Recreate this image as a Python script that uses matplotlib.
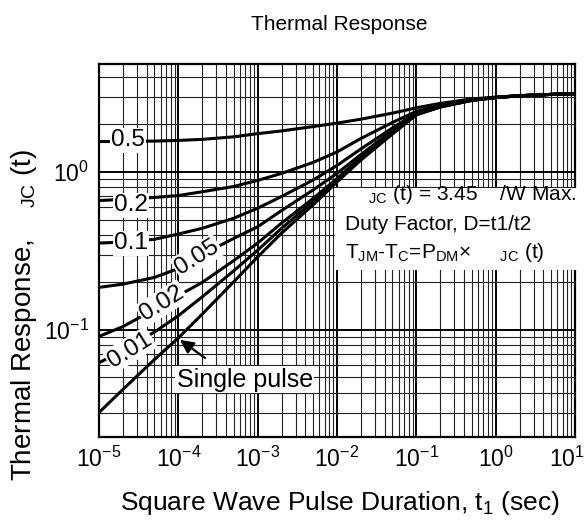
import matplotlib
matplotlib.use('Agg')
import matplotlib.pyplot as plt
from matplotlib.ticker import LogLocator, NullFormatter
from matplotlib.patches import Rectangle
from matplotlib.transforms import ScaledTranslation

plt.rcParams['font.family'] = ['Liberation Sans', 'DejaVu Sans']
plt.rcParams['mathtext.fontset'] = 'custom'
plt.rcParams['mathtext.rm'] = 'Liberation Sans'
plt.rcParams['mathtext.it'] = 'Liberation Sans:italic'
plt.rcParams['mathtext.bf'] = 'Liberation Sans:bold'
plt.rcParams['axes.unicode_minus'] = False

# pulse duration (sec)
t = [1e-5, 2e-5, 5e-5, 1e-4, 2e-4, 5e-4, 1e-3, 2e-3, 5e-3, 1e-2,
     2e-2, 5e-2, 1e-1, 2e-1, 5e-1, 1, 2, 5, 10]

# thermal response, one list per duty factor
z_05 = [1.56, 1.56, 1.57, 1.585, 1.61, 1.67, 1.75, 1.82, 1.94, 2.04,
        2.16, 2.36, 2.55, 2.72, 2.90, 2.98, 3.05, 3.10, 3.13]
z_02 = [0.66, 0.67, 0.69, 0.71, 0.75, 0.81, 0.885, 0.98, 1.15, 1.34,
        1.63, 2.06, 2.42, 2.65, 2.87, 2.97, 3.04, 3.10, 3.13]
z_01 = [0.355, 0.36, 0.375, 0.405, 0.44, 0.51, 0.59, 0.70, 0.89, 1.10,
        1.40, 1.90, 2.37, 2.62, 2.86, 2.97, 3.04, 3.10, 3.13]
z_005 = [0.186, 0.195, 0.215, 0.245, 0.30, 0.38, 0.45, 0.57, 0.77, 0.98,
         1.29, 1.83, 2.34, 2.60, 2.85, 2.96, 3.04, 3.10, 3.13]
z_002 = [0.091, 0.105, 0.135, 0.165, 0.20, 0.275, 0.355, 0.475, 0.68, 0.91,
         1.24, 1.79, 2.32, 2.59, 2.85, 2.96, 3.04, 3.10, 3.13]
z_001 = [0.062, 0.074, 0.097, 0.123, 0.162, 0.237, 0.32, 0.44, 0.65, 0.88,
         1.21, 1.76, 2.31, 2.58, 2.84, 2.96, 3.04, 3.10, 3.13]
z_single = [0.030, 0.042, 0.065, 0.089, 0.126, 0.202, 0.29, 0.41, 0.62, 0.865,
            1.19, 1.74, 2.30, 2.58, 2.84, 2.96, 3.04, 3.10, 3.13]

curves = [z_05, z_02, z_01, z_005, z_002, z_001, z_single]

x_ticks = [1e-5, 1e-4, 1e-3, 1e-2, 1e-1, 1, 10]
x_labels = ['$10^{-5}$', '$10^{-4}$', '$10^{-3}$', '$10^{-2}$', '$10^{-1}$', '$10^{0}$', '$10^{1}$']
y_ticks = [0.1, 1]
y_labels = ['$10^{-1}$', '$10^{0}$']

W, H = 586, 525
fig = plt.figure(figsize=(W / 100, H / 100), dpi=100)


def px(x, y):
    # pixel position -> figure fraction
    return x / W, 1 - y / H


ax = fig.add_axes([99 / W, 1 - 437 / H, (575 - 99) / W, (437 - 64) / H])
ax.set_xscale('log')
ax.set_yscale('log')
ax.set_xlim(1e-5, 10)
ax.set_ylim(0.021, 4.83)

for z in curves:
    ax.plot(t, z, color='black', lw=2.2, solid_capstyle='butt', zorder=3)

# grid
ax.set_xticks(x_ticks, x_labels)
ax.set_yticks(y_ticks, y_labels)
ax.xaxis.set_minor_locator(LogLocator(base=10, subs=range(2, 10), numticks=20))
ax.yaxis.set_minor_locator(LogLocator(base=10, subs=range(2, 10), numticks=20))
ax.xaxis.set_minor_formatter(NullFormatter())
ax.yaxis.set_minor_formatter(NullFormatter())
ax.grid(which='major', color='black', lw=1.4)
ax.grid(which='minor', color='#222222', lw=0.8)
ax.tick_params(which='both', length=0, labelsize=16.5, pad=7)
for s in ax.spines.values():
    s.set_linewidth(1.6)

# last x label sits against the right edge
last = ax.get_xticklabels()[-1]
last.set_transform(last.get_transform() + ScaledTranslation(-0.08, 0, fig.dpi_scale_trans))

# duty factor labels
lab = dict(fontsize=17.5, ha='center', va='center', zorder=4,
           bbox=dict(facecolor='white', edgecolor='none', pad=1))
ax.text(2.32e-5, 1.585, '0.5', **lab)
ax.text(2.53e-5, 0.616, '0.2', **lab)
ax.text(2.53e-5, 0.355, '0.1', **lab)
ax.text(1.72e-4, 0.289, '0.05', rotation=32, **lab)
ax.text(6.2e-5, 0.148, '0.02', rotation=32, **lab)
ax.text(2.45e-5, 0.0748, '0.01', rotation=32, **lab)

lab['fontsize'] = 18
ax.text(6.9e-4, 0.0483, 'Single pulse', **lab)
ax.annotate('', xy=(1.05e-4, 0.0865), xytext=(2.17e-4, 0.0665),
            arrowprops=dict(arrowstyle='-|>', color='black', lw=1.6,
                            mutation_scale=20, shrinkA=0, shrinkB=0), zorder=5)

# info box
fig.patches.append(Rectangle(px(335, 270), 243 / W, 82 / H, transform=fig.transFigure,
                             facecolor='white', edgecolor='none', zorder=2))
fig.text(*px(345, 195), '    $_{\\mathrm{JC}}$ (t) = 3.45    /W Max.', fontsize=15, va='center')
fig.text(*px(345, 224), 'Duty Factor, D=t1/t2', fontsize=15, va='center')
fig.text(*px(345, 253), 'T$_{\\mathrm{JM}}$-T$_{\\mathrm{C}}$=P$_{\\mathrm{DM}}$\u00d7     $_{\\mathrm{JC}}$ (t)',
         fontsize=15, va='center')

fig.text(*px(339, 24), 'Thermal Response', fontsize=15, ha='center', va='center')
fig.text(*px(340, 503), 'Square Wave Pulse Duration, t$_{\\mathrm{1}}$ (sec)',
         fontsize=19, ha='center', va='center')
fig.text(*px(24, 481), 'Thermal Response,    $_{\\mathrm{JC}}$ (t)', fontsize=20,
         rotation=90, ha='center', va='bottom')

fig.savefig('out.png', dpi=100)
